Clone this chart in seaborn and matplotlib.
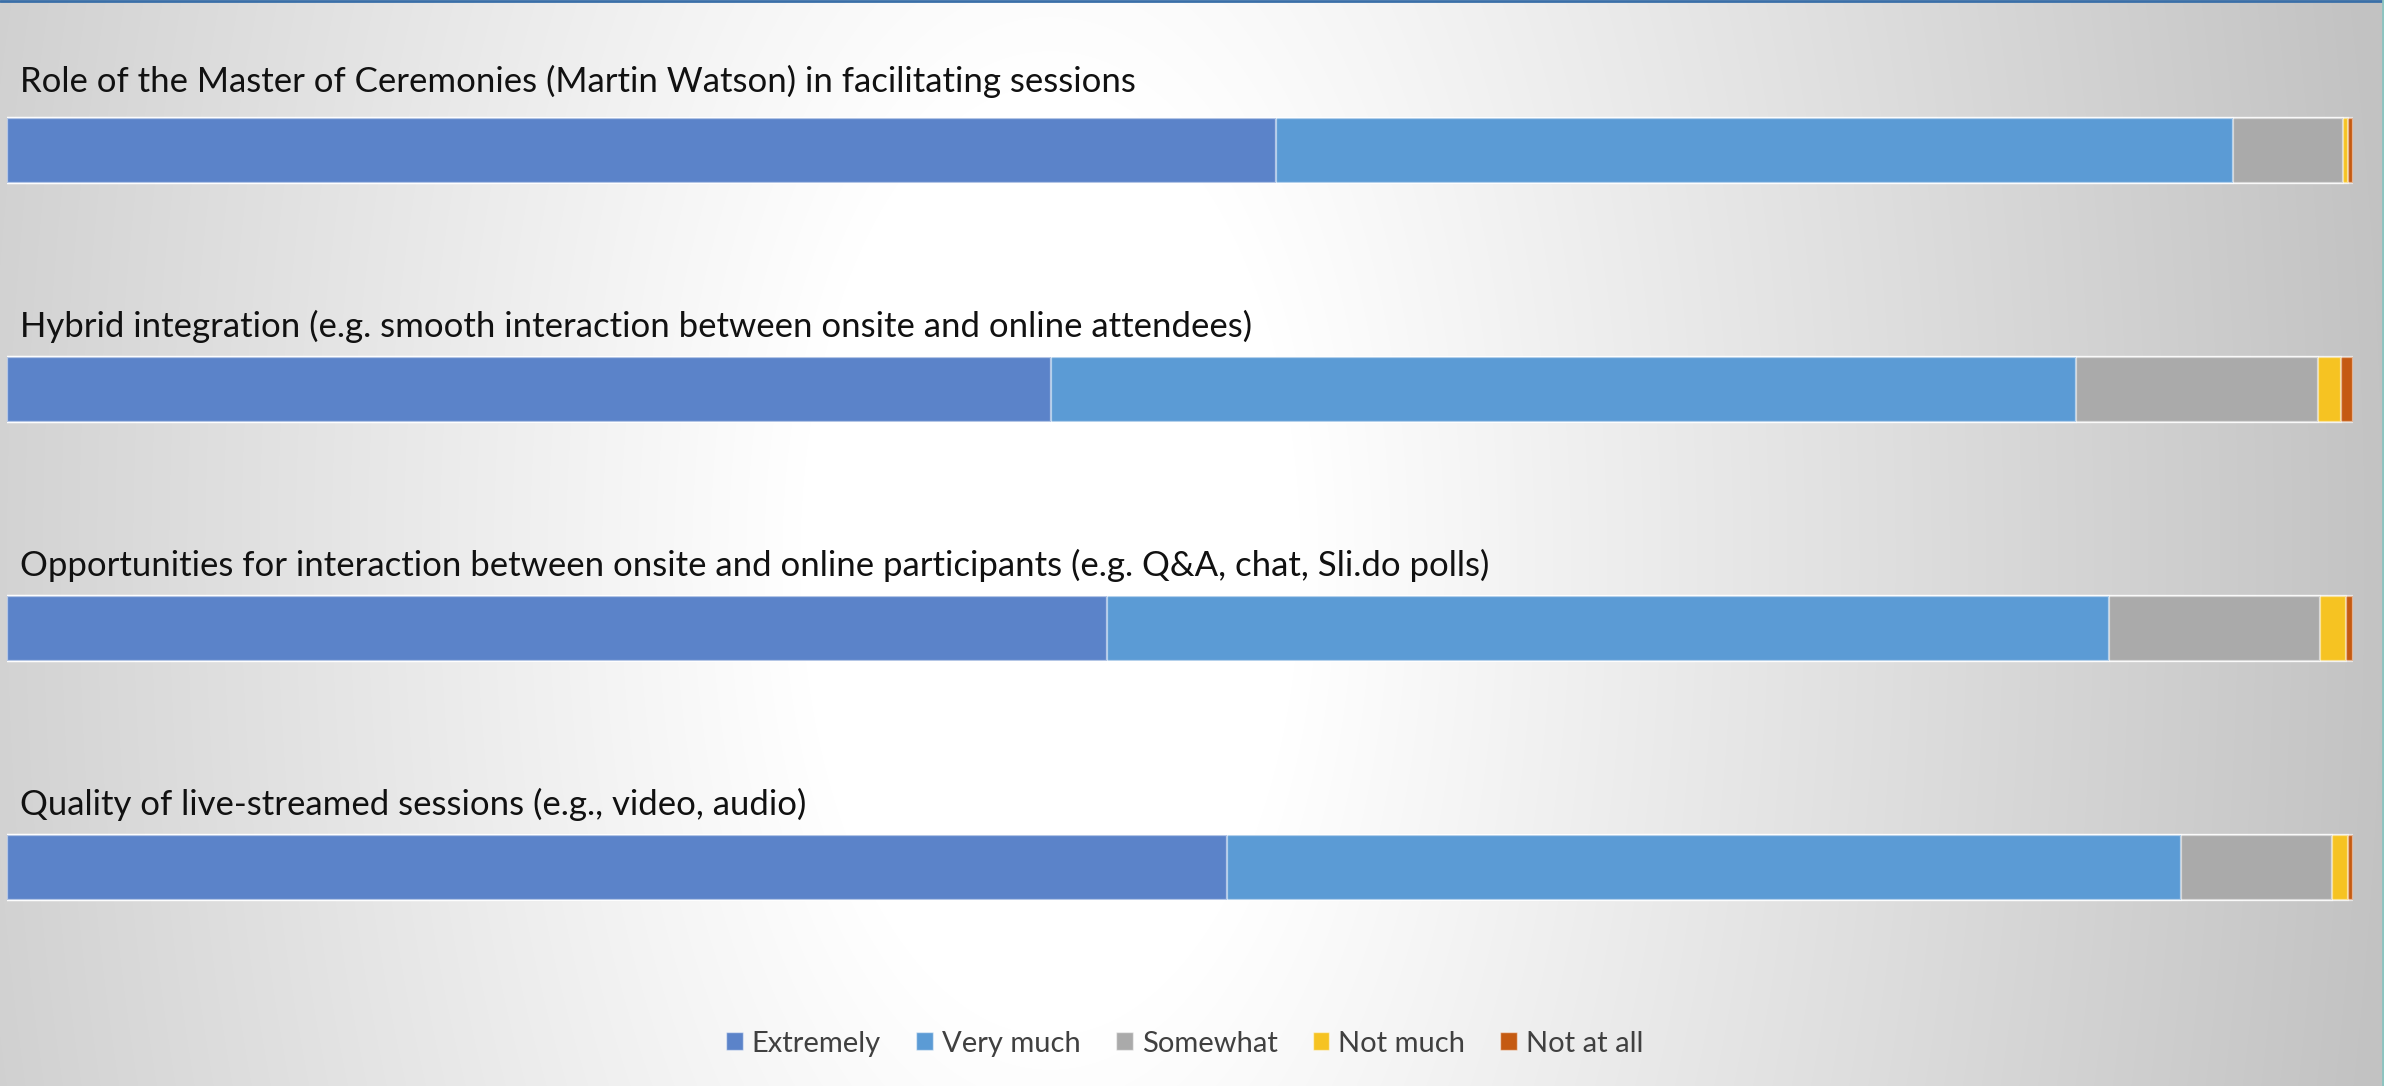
import numpy as np
import pandas as pd
import matplotlib
matplotlib.use("Agg")
import matplotlib.pyplot as plt
from matplotlib.patches import Patch
from matplotlib.lines import Line2D
import seaborn as sns

# Survey items and the share of answers (%) for each rating
categories = [
    "Role of the Master of Ceremonies (Martin Watson) in facilitating sessions",
    "Hybrid integration (e.g. smooth interaction between onsite and online attendees)",
    "Opportunities for interaction between onsite and online participants (e.g. Q&A, chat, Sli.do polls)",
    "Quality of live-streamed sessions (e.g., video, audio)",
]
ratings = ["Extremely", "Very much", "Somewhat", "Not much", "Not at all"]
extremely = [54.1, 44.5, 46.9, 52.0]
very_much = [40.8, 43.7, 42.7, 40.7]
somewhat = [4.7, 10.3, 9.0, 6.4]
not_much = [0.2, 1.0, 1.1, 0.7]
not_at_all = [0.2, 0.5, 0.3, 0.2]

colors = ["#5b83c9", "#5b9bd5", "#aaaaaa", "#f6c322", "#c55a11"]

sns.set_theme(style="white")
plt.rcParams["font.family"] = ["Lato", "DejaVu Sans"]

df = pd.DataFrame(
    {"item": categories, "Extremely": extremely, "Very much": very_much,
     "Somewhat": somewhat, "Not much": not_much, "Not at all": not_at_all}
)
cum = df[ratings].cumsum(axis=1)
cum["item"] = df["item"]

W, H = 2384, 1086
fig = plt.figure(figsize=(W / 100, H / 100), dpi=100)

# soft radial backdrop
bg = fig.add_axes([0, 0, 1, 1])
yy, xx = np.mgrid[0:H, 0:W]
r = np.sqrt(((xx - 1050) / 1.0) ** 2 + ((yy - 560) / 1.9) ** 2)
t = np.clip((r - 250) / 1100, 0, 1)
shade = 1.0 - t * (61 / 255)
bg.imshow(np.dstack([shade, shade, shade]), aspect="auto", extent=[0, 1, 0, 1])
bg.set_axis_off()

ax = fig.add_axes([7 / W, 0, 2345.7 / W, 1])
ax.set_facecolor("none")

bar_h = 0.268
# stacked bars: draw cumulative totals from the outermost segment inward
for name, col in reversed(list(zip(ratings, colors))):
    sns.barplot(data=cum, x=name, y="item", orient="h", color=col,
                width=bar_h, errorbar=None, saturation=1,
                edgecolor=(1, 1, 1, 0.55), linewidth=1.6, ax=ax)

ax.set_xlim(0, 100)
ax.set_ylim(3 + (H - 867.5) / 239, -150.5 / 239)
ax.set_axis_off()

for i, label in enumerate(categories):
    off = 0.287 if i == 0 else 0.262
    ax.text(0.55, i - off, label, ha="left", va="center",
            fontsize=25, color="#111111")

handles = [Patch(facecolor=c, edgecolor=(1, 1, 1, 0.5), label=n)
           for n, c in zip(ratings, colors)]
fig.legend(handles=handles, loc="center", bbox_to_anchor=(0.497, 0.039),
           ncol=5, frameon=False, fontsize=21, labelcolor="#404040",
           handlelength=0.58, handleheight=0.58, handletextpad=0.31,
           columnspacing=1.2)

# thin frame accents along the top and right edges
fig.add_artist(Line2D([0, 1], [1 - 1 / H, 1 - 1 / H], transform=fig.transFigure,
                      color="#3a6fa8", lw=2))
fig.add_artist(Line2D([1 - 1.5 / W, 1 - 1.5 / W], [0, 1], transform=fig.transFigure,
                      color="#8cc4c0", lw=2))

fig.savefig("out.png", dpi=100)
